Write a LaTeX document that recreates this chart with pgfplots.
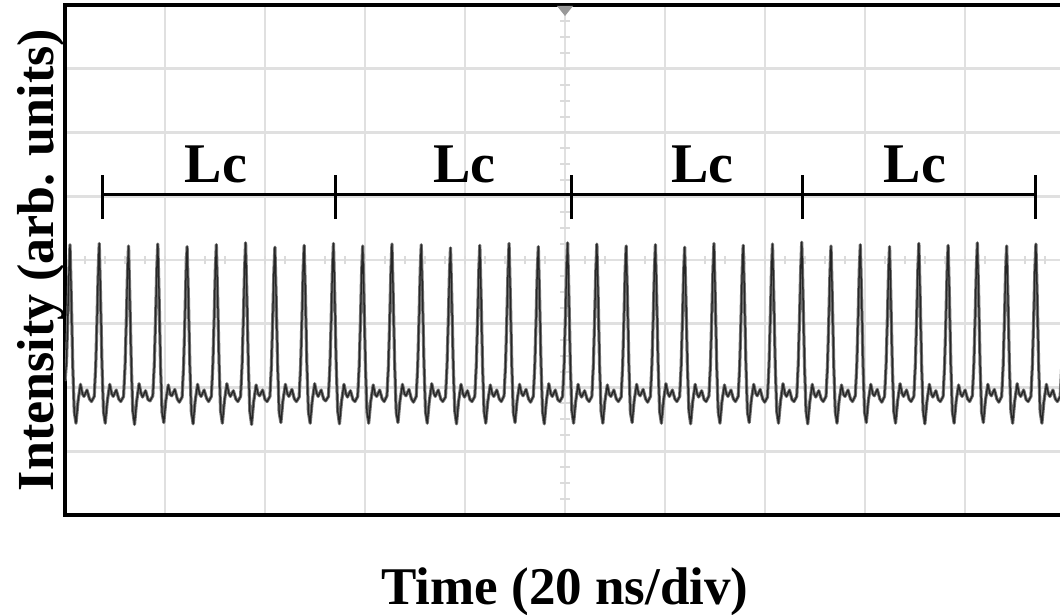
\documentclass[border=0pt]{standalone}
\usepackage{fontspec}
\setmainfont{Liberation Serif}
\usepackage{pgfplots}
\usepackage{pgfplotstable}
\pgfplotsset{compat=1.18}

\pgfplotstableread[row sep=\\]{
x y \\
0.00 2.10 \\ 0.30 2.40 \\ 0.55 3.06 \\ 0.80 3.85 \\ 1.00 4.24 \\ 1.25 3.45 \\ 1.55 2.35 \\ 1.85 1.62 \\ 2.20 1.44 \\ 2.60 1.78 \\ 3.10 2.05 \\ 3.50 1.90 \\ 3.80 1.86 \\ 4.40 1.96 \\ 4.90 1.82 \\ 5.30 1.78 \\
5.85 1.86 \\ 6.15 2.35 \\ 6.40 3.06 \\ 6.65 3.85 \\ 6.85 4.26 \\ 7.10 3.45 \\ 7.40 2.35 \\ 7.70 1.62 \\ 8.05 1.44 \\ 8.45 1.78 \\ 8.95 2.05 \\ 9.35 1.90 \\ 9.65 1.86 \\ 10.25 1.96 \\ 10.75 1.82 \\ 11.15 1.78 \\
11.71 1.86 \\ 12.01 2.33 \\ 12.26 3.04 \\ 12.51 3.83 \\ 12.71 4.22 \\ 12.96 3.43 \\ 13.26 2.36 \\ 13.56 1.63 \\ 13.91 1.42 \\ 14.31 1.77 \\ 14.81 2.06 \\ 15.21 1.91 \\ 15.51 1.85 \\ 16.11 1.95 \\ 16.61 1.81 \\ 17.01 1.79 \\
17.56 1.87 \\ 17.86 2.36 \\ 18.11 3.07 \\ 18.36 3.86 \\ 18.56 4.25 \\ 18.81 3.46 \\ 19.11 2.34 \\ 19.41 1.61 \\ 19.76 1.45 \\ 20.16 1.79 \\ 20.66 2.04 \\ 21.06 1.89 \\ 21.36 1.87 \\ 21.96 1.97 \\ 22.46 1.82 \\ 22.86 1.77 \\
23.42 1.85 \\ 23.72 2.34 \\ 23.97 3.05 \\ 24.22 3.84 \\ 24.42 4.21 \\ 24.67 3.44 \\ 24.97 2.35 \\ 25.27 1.62 \\ 25.62 1.43 \\ 26.02 1.78 \\ 26.52 2.05 \\ 26.92 1.90 \\ 27.22 1.86 \\ 27.82 1.96 \\ 28.32 1.83 \\ 28.72 1.78 \\
29.27 1.86 \\ 29.57 2.35 \\ 29.82 3.06 \\ 30.07 3.85 \\ 30.27 4.24 \\ 30.52 3.45 \\ 30.82 2.37 \\ 31.12 1.63 \\ 31.47 1.44 \\ 31.87 1.78 \\ 32.37 2.06 \\ 32.77 1.91 \\ 33.07 1.86 \\ 33.67 1.95 \\ 34.17 1.82 \\ 34.57 1.78 \\
35.12 1.86 \\ 35.42 2.36 \\ 35.67 3.08 \\ 35.92 3.87 \\ 36.12 4.27 \\ 36.37 3.47 \\ 36.67 2.35 \\ 36.97 1.62 \\ 37.32 1.42 \\ 37.72 1.77 \\ 38.22 2.04 \\ 38.62 1.90 \\ 38.92 1.87 \\ 39.52 1.96 \\ 40.02 1.81 \\ 40.42 1.78 \\
40.98 1.86 \\ 41.28 2.34 \\ 41.53 3.04 \\ 41.78 3.82 \\ 41.98 4.20 \\ 42.23 3.43 \\ 42.53 2.34 \\ 42.83 1.61 \\ 43.18 1.45 \\ 43.58 1.79 \\ 44.08 2.05 \\ 44.48 1.90 \\ 44.78 1.86 \\ 45.38 1.97 \\ 45.88 1.82 \\ 46.28 1.78 \\
46.83 1.85 \\ 47.13 2.35 \\ 47.38 3.06 \\ 47.63 3.85 \\ 47.83 4.23 \\ 48.08 3.45 \\ 48.38 2.35 \\ 48.68 1.62 \\ 49.03 1.44 \\ 49.43 1.78 \\ 49.93 2.06 \\ 50.33 1.91 \\ 50.63 1.86 \\ 51.23 1.96 \\ 51.73 1.82 \\ 52.13 1.79 \\
52.69 1.86 \\ 52.99 2.36 \\ 53.24 3.07 \\ 53.49 3.86 \\ 53.69 4.26 \\ 53.94 3.46 \\ 54.24 2.36 \\ 54.54 1.63 \\ 54.89 1.43 \\ 55.29 1.77 \\ 55.79 2.05 \\ 56.19 1.90 \\ 56.49 1.85 \\ 57.09 1.95 \\ 57.59 1.81 \\ 57.99 1.78 \\
58.54 1.86 \\ 58.84 2.34 \\ 59.09 3.05 \\ 59.34 3.84 \\ 59.54 4.22 \\ 59.79 3.44 \\ 60.09 2.34 \\ 60.39 1.62 \\ 60.74 1.44 \\ 61.14 1.78 \\ 61.64 2.04 \\ 62.04 1.89 \\ 62.34 1.86 \\ 62.94 1.96 \\ 63.44 1.82 \\ 63.84 1.78 \\
64.39 1.87 \\ 64.69 2.35 \\ 64.94 3.06 \\ 65.19 3.85 \\ 65.39 4.25 \\ 65.64 3.45 \\ 65.94 2.35 \\ 66.24 1.61 \\ 66.59 1.45 \\ 66.99 1.79 \\ 67.49 2.05 \\ 67.89 1.90 \\ 68.19 1.87 \\ 68.79 1.97 \\ 69.29 1.82 \\ 69.69 1.77 \\
70.25 1.86 \\ 70.55 2.35 \\ 70.80 3.06 \\ 71.05 3.85 \\ 71.25 4.24 \\ 71.50 3.45 \\ 71.80 2.36 \\ 72.10 1.62 \\ 72.45 1.44 \\ 72.85 1.78 \\ 73.35 2.06 \\ 73.75 1.91 \\ 74.05 1.86 \\ 74.65 1.96 \\ 75.15 1.82 \\ 75.55 1.78 \\
76.10 1.85 \\ 76.40 2.33 \\ 76.65 3.03 \\ 76.90 3.81 \\ 77.10 4.19 \\ 77.35 3.42 \\ 77.65 2.34 \\ 77.95 1.63 \\ 78.30 1.43 \\ 78.70 1.77 \\ 79.20 2.05 \\ 79.60 1.90 \\ 79.90 1.85 \\ 80.50 1.95 \\ 81.00 1.81 \\ 81.40 1.78 \\
81.96 1.86 \\ 82.26 2.35 \\ 82.51 3.05 \\ 82.76 3.84 \\ 82.96 4.23 \\ 83.21 3.45 \\ 83.51 2.35 \\ 83.81 1.62 \\ 84.16 1.44 \\ 84.56 1.78 \\ 85.06 2.04 \\ 85.46 1.90 \\ 85.76 1.86 \\ 86.36 1.96 \\ 86.86 1.82 \\ 87.26 1.78 \\
87.81 1.87 \\ 88.11 2.36 \\ 88.36 3.07 \\ 88.61 3.86 \\ 88.81 4.26 \\ 89.06 3.46 \\ 89.36 2.35 \\ 89.66 1.61 \\ 90.01 1.45 \\ 90.41 1.79 \\ 90.91 2.05 \\ 91.31 1.91 \\ 91.61 1.87 \\ 92.21 1.97 \\ 92.71 1.82 \\ 93.11 1.77 \\
93.66 1.86 \\ 93.96 2.34 \\ 94.21 3.04 \\ 94.46 3.83 \\ 94.66 4.21 \\ 94.91 3.44 \\ 95.21 2.35 \\ 95.51 1.62 \\ 95.86 1.43 \\ 96.26 1.78 \\ 96.76 2.06 \\ 97.16 1.90 \\ 97.46 1.86 \\ 98.06 1.96 \\ 98.56 1.81 \\ 98.96 1.78 \\
99.52 1.86 \\ 99.82 2.36 \\ 100.07 3.08 \\ 100.32 3.87 \\ 100.52 4.27 \\ 100.77 3.47 \\ 101.07 2.36 \\ 101.37 1.63 \\ 101.72 1.44 \\ 102.12 1.77 \\ 102.62 2.05 \\ 103.02 1.90 \\ 103.32 1.85 \\ 103.92 1.95 \\ 104.42 1.82 \\ 104.82 1.78 \\
105.37 1.86 \\ 105.67 2.35 \\ 105.92 3.06 \\ 106.17 3.85 \\ 106.37 4.25 \\ 106.62 3.45 \\ 106.92 2.35 \\ 107.22 1.62 \\ 107.57 1.44 \\ 107.97 1.78 \\ 108.47 2.04 \\ 108.87 1.89 \\ 109.17 1.86 \\ 109.77 1.96 \\ 110.27 1.82 \\ 110.67 1.78 \\
111.23 1.85 \\ 111.53 2.34 \\ 111.78 3.05 \\ 112.03 3.84 \\ 112.23 4.22 \\ 112.48 3.44 \\ 112.78 2.34 \\ 113.08 1.61 \\ 113.43 1.45 \\ 113.83 1.79 \\ 114.33 2.05 \\ 114.73 1.90 \\ 115.03 1.87 \\ 115.63 1.97 \\ 116.13 1.82 \\ 116.53 1.77 \\
117.08 1.86 \\ 117.38 2.35 \\ 117.63 3.06 \\ 117.88 3.85 \\ 118.08 4.24 \\ 118.33 3.45 \\ 118.63 2.35 \\ 118.93 1.62 \\ 119.28 1.44 \\ 119.68 1.78 \\ 120.18 2.06 \\ 120.58 1.91 \\ 120.88 1.86 \\ 121.48 1.96 \\ 121.98 1.82 \\ 122.38 1.78 \\
122.93 1.86 \\ 123.23 2.34 \\ 123.48 3.04 \\ 123.73 3.82 \\ 123.93 4.20 \\ 124.18 3.43 \\ 124.48 2.35 \\ 124.78 1.63 \\ 125.13 1.43 \\ 125.53 1.77 \\ 126.03 2.05 \\ 126.43 1.90 \\ 126.73 1.85 \\ 127.33 1.95 \\ 127.83 1.81 \\ 128.23 1.78 \\
128.79 1.87 \\ 129.09 2.36 \\ 129.34 3.07 \\ 129.59 3.86 \\ 129.79 4.26 \\ 130.04 3.46 \\ 130.34 2.35 \\ 130.64 1.62 \\ 130.99 1.44 \\ 131.39 1.78 \\ 131.89 2.04 \\ 132.29 1.90 \\ 132.59 1.86 \\ 133.19 1.96 \\ 133.69 1.82 \\ 134.09 1.78 \\
134.64 1.86 \\ 134.94 2.35 \\ 135.19 3.05 \\ 135.44 3.84 \\ 135.64 4.23 \\ 135.89 3.45 \\ 136.19 2.34 \\ 136.49 1.61 \\ 136.84 1.45 \\ 137.24 1.79 \\ 137.74 2.05 \\ 138.14 1.91 \\ 138.44 1.87 \\ 139.04 1.97 \\ 139.54 1.82 \\ 139.94 1.77 \\
140.50 1.85 \\ 140.80 2.35 \\ 141.05 3.06 \\ 141.30 3.85 \\ 141.50 4.25 \\ 141.75 3.45 \\ 142.05 2.35 \\ 142.35 1.62 \\ 142.70 1.44 \\ 143.10 1.78 \\ 143.60 2.06 \\ 144.00 1.90 \\ 144.30 1.86 \\ 144.90 1.96 \\ 145.40 1.81 \\ 145.80 1.78 \\
146.35 1.86 \\ 146.65 2.37 \\ 146.90 3.09 \\ 147.15 3.88 \\ 147.35 4.28 \\ 147.60 3.47 \\ 147.90 2.36 \\ 148.20 1.63 \\ 148.55 1.43 \\ 148.95 1.77 \\ 149.45 2.05 \\ 149.85 1.90 \\ 150.15 1.85 \\ 150.75 1.95 \\ 151.25 1.82 \\ 151.65 1.78 \\
152.20 1.86 \\ 152.50 2.34 \\ 152.75 3.04 \\ 153.00 3.83 \\ 153.20 4.22 \\ 153.45 3.44 \\ 153.75 2.35 \\ 154.05 1.62 \\ 154.40 1.44 \\ 154.80 1.78 \\ 155.30 2.04 \\ 155.70 1.89 \\ 156.00 1.86 \\ 156.60 1.96 \\ 157.10 1.82 \\ 157.50 1.78 \\
158.06 1.87 \\ 158.36 2.35 \\ 158.61 3.06 \\ 158.86 3.85 \\ 159.06 4.24 \\ 159.31 3.45 \\ 159.61 2.34 \\ 159.91 1.61 \\ 160.26 1.45 \\ 160.66 1.79 \\ 161.16 2.05 \\ 161.56 1.90 \\ 161.86 1.87 \\ 162.46 1.97 \\ 162.96 1.82 \\ 163.36 1.77 \\
163.91 1.86 \\ 164.21 2.34 \\ 164.46 3.04 \\ 164.71 3.82 \\ 164.91 4.21 \\ 165.16 3.43 \\ 165.46 2.35 \\ 165.76 1.62 \\ 166.11 1.44 \\ 166.51 1.78 \\ 167.01 2.06 \\ 167.41 1.91 \\ 167.71 1.86 \\ 168.31 1.96 \\ 168.81 1.82 \\ 169.21 1.78 \\
169.77 1.86 \\ 170.07 2.36 \\ 170.32 3.07 \\ 170.57 3.86 \\ 170.77 4.26 \\ 171.02 3.46 \\ 171.32 2.36 \\ 171.62 1.63 \\ 171.97 1.43 \\ 172.37 1.77 \\ 172.87 2.05 \\ 173.27 1.90 \\ 173.57 1.85 \\ 174.17 1.95 \\ 174.67 1.81 \\ 175.07 1.78 \\
175.62 1.86 \\ 175.92 2.35 \\ 176.17 3.05 \\ 176.42 3.84 \\ 176.62 4.23 \\ 176.87 3.45 \\ 177.17 2.35 \\ 177.47 1.62 \\ 177.82 1.44 \\ 178.22 1.78 \\ 178.72 2.04 \\ 179.12 1.90 \\ 179.42 1.86 \\ 180.02 1.96 \\ 180.52 1.82 \\ 180.92 1.78 \\
181.47 1.87 \\ 181.77 2.36 \\ 182.02 3.08 \\ 182.27 3.87 \\ 182.47 4.27 \\ 182.72 3.47 \\ 183.02 2.34 \\ 183.32 1.61 \\ 183.67 1.45 \\ 184.07 1.79 \\ 184.57 2.05 \\ 184.97 1.91 \\ 185.27 1.87 \\ 185.87 1.97 \\ 186.37 1.82 \\ 186.77 1.77 \\
187.33 1.86 \\ 187.63 2.34 \\ 187.88 3.04 \\ 188.13 3.83 \\ 188.33 4.22 \\ 188.58 3.44 \\ 188.88 2.35 \\ 189.18 1.62 \\ 189.53 1.44 \\ 189.93 1.78 \\ 190.43 2.06 \\ 190.83 1.90 \\ 191.13 1.86 \\ 191.73 1.96 \\ 192.23 1.81 \\ 192.63 1.78 \\
193.18 1.86 \\ 193.48 2.36 \\ 193.73 3.07 \\ 193.98 3.86 \\ 194.18 4.25 \\ 194.43 3.45 \\ 194.73 2.35 \\ 195.03 1.62 \\ 195.38 1.44 \\ 195.78 1.78 \\ 196.28 2.05 \\ 196.68 1.90 \\ 196.98 1.86 \\ 197.58 1.96 \\ 198.08 1.82 \\ 198.48 1.78 \\
199.03 1.86 \\ 199.33 2.30 \\ 200.00 3.20 \\
}\trace

\begin{document}
\begin{tikzpicture}
\begin{axis}[
  at={(65pt,100pt)}, anchor=south west,
  scale only axis, width=1000pt, height=510pt,
  xmin=0, xmax=200, ymin=0, ymax=8,
  xtick={20,40,...,180}, ytick={1,2,...,7},
  xticklabels={}, yticklabels={},
  major tick length=0pt,
  grid=major,
  major grid style={line width=2.6pt, color=black!12},
  axis line style={line width=4pt},
  clip=true,
  xlabel={Time (20 ns/div)},
  ylabel={Intensity (arb. units)},
  xlabel style={font=\fontsize{53}{60}\selectfont\bfseries, at={(axis description cs:0.5,0)}, anchor=base, yshift=-90pt},
  ylabel style={font=\fontsize{52}{60}\selectfont\bfseries, at={(axis description cs:-0.012,0.5)}, anchor=base},
]
% graticule centre-cross subdivisions
\pgfplotsinvokeforeach{4,8,...,196}{\draw[black!14, line width=2pt] (axis cs:#1,3.937) -- (axis cs:#1,4.063);}
\pgfplotsinvokeforeach{0.25,0.5,...,7.75}{\draw[black!14, line width=2pt] (axis cs:99,#1) -- (axis cs:101,#1);}
\fill[black!40] (axis cs:100,8) ++(-8pt,-1pt) -- ++(16pt,0) -- ++(-8pt,-10pt) -- cycle;

\addplot[black!55, line width=3.2pt, line join=round] table[x=x, y=y] {\trace};
\addplot[black!85, line width=1.3pt, line join=round] table[x=x, y=y] {\trace};

% Lc markers
\draw[black, line width=3pt] (axis cs:7.55,5.02) -- (axis cs:194.0,5.02);
\pgfplotsinvokeforeach{7.55,54.0,101.2,147.4,194.0}{
  \draw[black, line width=3pt] (axis cs:#1,4.64) -- (axis cs:#1,5.33);
}
\pgfplotsinvokeforeach{30.2,79.9,127.5,170.0}{
  \node[font=\fontsize{56}{60}\selectfont\bfseries, anchor=base, inner sep=0pt] at (axis cs:#1,5.21) {Lc};
}
\end{axis}
\pgfresetboundingbox
\path[use as bounding box] (0,0) rectangle (1060pt,615pt);
\end{tikzpicture}
\end{document}
